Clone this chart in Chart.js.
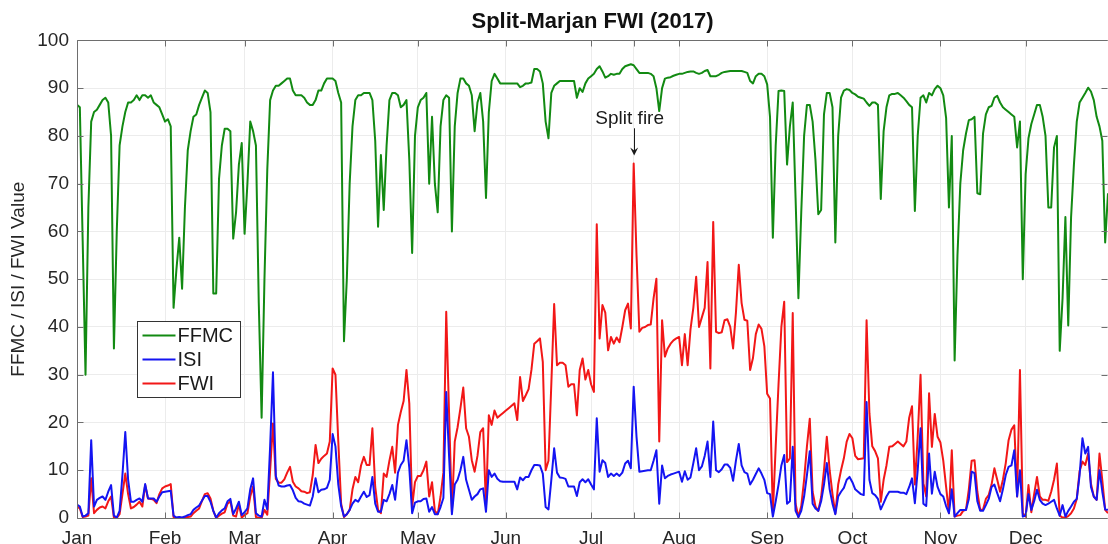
<!DOCTYPE html>
<html>
<head>
<meta charset="utf-8">
<title>Split-Marjan FWI (2017)</title>
<script src="https://cdn.jsdelivr.net/npm/chart.js@4.4.1/dist/chart.umd.min.js"></script>
<style>
  html, body { margin: 0; padding: 0; background: #ffffff; }
  #wrap { width: 1108px; height: 544px; }
</style>
</head>
<body>
<div id="wrap"><canvas id="fwiChart" width="1108" height="544"></canvas></div>
<script>
// daily values, index 0 = 1 Jan 2017 (one row per month)
const ffmc = [
  86.5, 86, 58, 30, 65, 83, 85, 85.5, 86.5, 87.5, 88, 87, 80, 35.5, 60, 78, 82, 85, 87, 87, 87.5, 88.5, 87.5, 88.5, 88.5, 88, 88.5, 87, 86.5, 86, 84.5,
  83, 83.5, 82, 44, 52, 58.7, 48, 65, 77, 81, 84, 84.5, 86.5, 88, 89.5, 89, 85, 47, 47, 71, 78, 81.5, 81.5, 81, 58.5, 64, 74, 78.5,
  59.5, 70, 83, 81, 78, 45, 21, 50, 73, 87.5, 89.5, 90.5, 90.5, 91, 91.5, 92, 92, 89.5, 88.5, 88.5, 88.5, 88, 87, 86.5, 86.5, 87.5, 89.5, 89.5, 91, 92, 92,
  92, 91.5, 89, 87, 37, 50, 70, 82, 87.5, 88.5, 88.5, 89, 89, 89, 87.5, 79, 61, 76, 64.5, 78, 87.5, 89, 89, 88.5, 86, 86.5, 87.5, 75, 55.5, 80,
  86, 87.5, 88, 89, 70, 84, 70, 64, 82, 87.5, 88.5, 88, 60, 82, 89, 92, 92, 91, 90.5, 88.5, 81, 87, 89, 83, 67, 85, 91.5, 93, 92, 91, 91,
  91, 91, 91, 91, 91, 90.2, 90.5, 91, 91, 91.2, 94, 94, 93.5, 91, 83, 79.5, 89, 90.5, 91, 91.5, 91.5, 91.5, 91.5, 91.5, 91.5, 88, 90, 89.2, 91, 92,
  92.5, 93, 94, 94.6, 93.5, 92.2, 92.5, 93, 92.8, 93, 93, 94, 94.6, 94.8, 95, 94.8, 94, 93.2, 93.2, 93.2, 93.2, 93, 92.5, 90, 85.2, 90, 92, 92.2, 92.3, 92.6, 92.8,
  93, 93, 93.2, 93.4, 93.5, 93.5, 93.2, 93, 93.2, 93.6, 93.8, 92.5, 92.5, 92.5, 92.8, 93.2, 93.4, 93.5, 93.6, 93.6, 93.6, 93.6, 93.6, 93.4, 93.2, 91.5, 91, 92.5, 93, 93, 92.5,
  90.8, 84, 58.7, 78, 89.4, 89.5, 89.4, 74, 82, 87, 67, 46, 64, 80, 86.5, 86.5, 83, 75, 63.6, 64.5, 84.5, 89, 89, 86, 57.7, 80, 88, 89.5, 89.8, 89.6,
  89, 88.7, 88.2, 88, 87.8, 87, 86.3, 87, 87, 86.5, 66.8, 81, 86, 88.5, 88.8, 88.8, 89, 88.5, 88, 87.3, 86.5, 86, 64.3, 80, 88, 88.5, 87, 89, 88.5, 89.8, 90.5,
  90, 88.5, 83.8, 65, 80, 33, 55, 70, 77, 80.5, 83.3, 83.5, 84, 68, 67.8, 80.5, 84.5, 86, 86.3, 88, 88.4, 87, 86, 85.5, 85, 84.5, 84, 77.6, 83, 50,
  72, 79.5, 82.5, 84.5, 86.5, 86.5, 84, 80, 65, 65, 77.6, 80, 35, 46, 63, 40.3, 63, 74, 83, 87, 88, 89, 90.1, 89.3, 87.5, 84, 82, 79, 57.7, 68
];

const isi = [
  2.8, 2.4, 0.3, 0.5, 1.0, 16.3, 2.4, 3.8, 4.2, 4.5, 3.8, 5.5, 6.9, 0.5, 0.1, 1.5, 9, 18, 8, 3.4, 3.4, 3.8, 4.1, 3.4, 7.1, 4.1, 4.1, 4.1, 3.4, 4.5, 5.4,
  5.5, 5.6, 5.7, 0.5, 0.1, 0.2, 0.1, 0.3, 0.6, 0.8, 1.7, 2.2, 2.6, 3.6, 4.6, 4.6, 3.4, 1.5, 0.1, 1.0, 1.6, 2.0, 3.5, 4.0, 0.8, 2.0, 3.4, 0.6,
  1.2, 2.0, 6, 8.3, 1.0, 0.5, 0.3, 3.8, 1.8, 15, 30.5, 8.8, 6.8, 6.6, 6.6, 6.8, 6.9, 5.8, 4.2, 3.5, 3.4, 3.0, 2.8, 2.6, 4.5, 8.3, 5.4, 5.9, 6.0, 6.3, 8,
  17.6, 15, 7, 2.5, 0.3, 0.8, 1.7, 3.0, 3.8, 3.4, 4.5, 5.5, 4.4, 4.8, 8.6, 3.0, 1.3, 1.3, 3.8, 3.5, 5, 6.9, 3.8, 9.5, 11.1, 12, 16.3, 10.5, 1.0, 3.2,
  3.5, 3.5, 4.0, 4.1, 1.3, 2.3, 0.8, 0.8, 2.3, 4.2, 26.4, 13, 0.8, 7, 8, 10, 12.8, 8, 5.9, 3.8, 4.5, 5, 6, 6.2, 1.3, 10, 8.6, 9.3, 8.2, 7.7, 7.6,
  7.6, 7.6, 7.6, 7.6, 6, 8.5, 7.9, 8.6, 8.6, 10, 11.1, 11.1, 11, 9.3, 2.3, 1.8, 8, 14.6, 9.5, 8.5, 8.4, 8.2, 6.6, 6.6, 6.6, 4.6, 7.5, 8.1, 7.5, 8.1,
  7, 6, 20.9, 9.7, 12.1, 11.5, 8.6, 9.3, 8.8, 9.3, 8.8, 9.5, 11.4, 12, 10.4, 27.5, 17, 9.7, 9.8, 9.9, 10, 10, 12, 14.2, 3, 11, 8.3, 8.8, 9.1, 9.3, 9.5,
  9.7, 7.6, 9.8, 8, 8.5, 11.5, 14.6, 10, 10.8, 13, 16, 8.6, 20.2, 10, 9.6, 10.2, 11.2, 11.2, 10.5, 7.8, 12, 15.5, 11, 9.6, 9.3, 7, 8, 9.2, 10.4, 9.3, 8,
  5.2, 5, 0.3, 3.5, 7, 11, 13.2, 3, 3.5, 14.9, 1.5, 0.2, 1.5, 4.5, 9, 14, 3, 2, 1.5, 3.5, 7, 11.5, 6, 3, 0.8, 4.5, 5.5, 6.3, 8, 8.6,
  7.5, 6, 5.5, 5, 4.8, 24.3, 8, 5.2, 4.8, 4, 1.8, 3.1, 4.5, 5.5, 5.5, 5.5, 5.5, 5.3, 5.3, 5, 6.5, 8.3, 3.1, 10, 18.8, 3, 2.5, 13.5, 5.1, 9.7, 6.5,
  5, 4.5, 2.5, 1, 6, 0.3, 1, 1.7, 1.7, 1.7, 4, 9.7, 9.4, 3.5, 1.5, 1.5, 2.7, 4, 6.5, 7, 5.2, 3.5, 6, 9, 10.7, 11, 14.2, 4.5, 10, 0.3,
  0.5, 5, 1.7, 3.5, 5.9, 3.8, 3, 2.7, 3, 3.4, 3.8, 2, 0.5, 2.7, 0.3, 1.5, 2.4, 3.4, 4, 9, 16.7, 13.5, 14.9, 6.5, 4.5, 3.8, 10, 5.5, 1.8, 1.7
];

const fwi = [
  2.4, 2.0, 0.2, 0.3, 0.5, 8.3, 1.0, 1.7, 2.2, 2.4, 2.0, 3.5, 4.5, 0.1, 0, 0.8, 5, 9.3, 5, 2.0, 2.3, 2.8, 3.4, 2.4, 6.9, 4.1, 4.0, 3.8, 3.1, 5.0, 6.2,
  6.6, 6.8, 7.1, 0.2, 0, 0.1, 0, 0.1, 0.2, 0.3, 1.0, 1.5, 2.0, 3.6, 5.0, 5.2, 4.1, 1.5, 0, 0.5, 0.9, 1.2, 3.0, 3.5, 0.5, 0.3, 2.9, 0.1,
  0.6, 1.0, 4.5, 6.6, 0.2, 0, 0, 1.7, 0.7, 10, 19.8, 8.2, 7.4, 7.4, 8.1, 9.5, 10.7, 7.6, 6.6, 6.2, 5.6, 5.5, 5.2, 5.4, 9, 15.3, 11.5, 12.4, 13, 13.5, 16,
  31.3, 30, 16, 3, 0.2, 0.8, 1.7, 6, 8.6, 7.5, 11, 12.8, 11.1, 11.1, 18.8, 6.5, 1.7, 1.0, 9.3, 8.6, 12, 14.9, 9.5, 19.5, 22.2, 24.5, 31, 24, 2.4, 7.5,
  8.8, 8.8, 10, 11.8, 4.5, 7.5, 1.5, 0.8, 4.5, 9.5, 43.2, 22, 1.3, 16, 19, 23, 27.3, 18.8, 17, 12.1, 9.7, 13, 18, 18.8, 2.4, 21.5, 19.5, 22.5, 21, 21.5, 22,
  22.5, 23, 23.5, 24, 20.5, 29.5, 24.5, 25.7, 27, 31, 36.5, 37, 37.6, 32.7, 10, 12, 28, 44.8, 32, 32.5, 32.5, 32, 27.5, 28, 28, 21.5, 31, 33.4, 29, 31,
  28, 26.4, 61.5, 37.6, 44.6, 43, 35.1, 37.9, 36.5, 37.8, 36.8, 40, 43.5, 44.9, 39.7, 74.2, 55, 39, 39.8, 40, 40.4, 40.5, 46, 50.1, 16, 41.4, 33.8, 35.5, 36.5, 37.2, 37.6,
  37.9, 32, 38.5, 32, 39.5, 44, 50.5, 40, 42, 44, 53.6, 31.3, 62, 39, 38.7, 38.9, 41.4, 41.6, 40, 35.5, 43, 53, 45, 41.5, 41.3, 31, 33.5, 38.5, 40.5, 39.6, 36,
  26, 25, 1, 15, 28, 40, 45.3, 11.7, 12.5, 42.9, 3, 0.2, 2.5, 8, 15, 20.8, 5.5, 2.4, 1.5, 4.4, 10, 17, 10, 5, 0.9, 7, 10, 12.5, 16, 17.6,
  16.7, 13, 12.3, 12.4, 12.5, 41.4, 21.9, 15, 14, 12.5, 3.4, 8, 11, 14.9, 15, 15.5, 16, 15.5, 15, 16, 21, 23.4, 7, 17, 30, 7.3, 4.5, 26.1, 14.9, 21.8, 17,
  15.8, 12, 6.5, 1, 14.2, 0.3, 0.5, 0.6, 1.5, 1.7, 6, 12, 12.1, 5.5, 1.7, 1.8, 4, 4.8, 7, 10.4, 8, 5.5, 8, 11.5, 16.3, 18.5, 19.4, 4.5, 31, 1,
  0.3, 6.9, 1.2, 5, 8.6, 4.5, 3.8, 3.8, 3.6, 5.5, 8, 11.4, 0.5, 0.1, 0.1, 0.4, 1, 2, 4, 9.8, 11.8, 11.1, 13.5, 7.2, 4.5, 3.8, 13.5, 7.9, 1.7, 1
];

const monthNames = ['Jan', 'Feb', 'Mar', 'Apr', 'May', 'Jun', 'Jul', 'Aug', 'Sep', 'Oct', 'Nov', 'Dec'];
const monthStarts = [0, 31, 59, 90, 120, 151, 181, 212, 243, 273, 304, 334];
const fireDay = 196;            // unlabelled tick + arrow
const fireText = 'Split fire';

const xTicks = monthStarts.concat([fireDay]).sort((a, b) => a - b);
const toPoints = arr => arr.map((v, i) => ({ x: i, y: v }));

Chart.defaults.font.family = '"Liberation Sans", Arial, Helvetica, sans-serif';
Chart.defaults.color = '#262626';

// box, inward ticks, legend and the fire arrow (MATLAB look)
const overlay = {
  id: 'overlay',
  afterDraw(chart) {
    const { ctx, chartArea: a, scales } = chart;
    const x = scales.x, y = scales.y;
    const L = Math.round(a.left) + 0.5, R = Math.round(a.right) - 0.5;
    const T = Math.round(a.top) + 0.5, B = Math.round(a.bottom) + 0.5;
    ctx.save();
    ctx.strokeStyle = '#6e6e6e';
    ctx.lineWidth = 1;
    ctx.beginPath();
    ctx.moveTo(L, B); ctx.lineTo(L, T); ctx.lineTo(R, T);
    ctx.moveTo(L, B); ctx.lineTo(R, B);
    xTicks.forEach(d => {
      const px = Math.round(x.getPixelForValue(d)) + 0.5;
      ctx.moveTo(px, B); ctx.lineTo(px, B - 6);
      ctx.moveTo(px, T); ctx.lineTo(px, T + 6);
    });
    for (let v = 0; v <= 100; v += 10) {
      const py = Math.round(y.getPixelForValue(v)) + 0.5;
      ctx.moveTo(L, py); ctx.lineTo(L + 6, py);
      ctx.moveTo(R, py); ctx.lineTo(R - 6, py);
    }
    ctx.stroke();

    // legend box
    const lx = 137.5, ly = 321.5, lw = 103, lh = 76;
    ctx.fillStyle = '#ffffff';
    ctx.fillRect(lx, ly, lw, lh);
    ctx.strokeStyle = '#333333';
    ctx.strokeRect(lx, ly, lw, lh);
    ctx.font = '20px "Liberation Sans", Arial, sans-serif';
    ctx.textBaseline = 'middle';
    ctx.textAlign = 'left';
    chart.data.datasets.forEach((ds, i) => {
      const ry = ly + 14 + i * 24;
      ctx.strokeStyle = ds.borderColor;
      ctx.lineWidth = 2;
      ctx.beginPath();
      ctx.moveTo(lx + 5, ry); ctx.lineTo(lx + 38, ry);
      ctx.stroke();
      ctx.fillStyle = '#1a1a1a';
      ctx.fillText(ds.label, lx + 40, ry + 1);
    });

    // annotation
    const fx = x.getPixelForValue(fireDay);
    const yTop = y.getPixelForValue(81.6), yTip = y.getPixelForValue(75.9);
    ctx.fillStyle = '#1a1a1a';
    ctx.textAlign = 'center';
    ctx.font = '19px "Liberation Sans", Arial, sans-serif';
    ctx.fillText(fireText, fx - 4, y.getPixelForValue(83.6));
    ctx.strokeStyle = '#1a1a1a';
    ctx.lineWidth = 1;
    ctx.beginPath();
    ctx.moveTo(Math.round(fx) + 0.5, yTop); ctx.lineTo(Math.round(fx) + 0.5, yTip - 4);
    ctx.stroke();
    ctx.beginPath();
    ctx.moveTo(fx + 0.5, yTip);
    ctx.lineTo(fx - 3.5, yTip - 8);
    ctx.lineTo(fx + 0.5, yTip - 5);
    ctx.lineTo(fx + 4.5, yTip - 8);
    ctx.closePath();
    ctx.fill();
    ctx.restore();
  }
};

const ctx = document.getElementById('fwiChart').getContext('2d');
const fwiChart = new Chart(ctx, {
  type: 'line',
  data: {
    datasets: [
      { label: 'FFMC', data: toPoints(ffmc), borderColor: '#128a12', order: 2 },
      { label: 'ISI', data: toPoints(isi), borderColor: '#1414f2', order: 0 },
      { label: 'FWI', data: toPoints(fwi), borderColor: '#f21717', order: 1 }
    ]
  },
  options: {
    responsive: false,
    animation: false,
    events: [],
    layout: { padding: 0 },
    elements: {
      point: { radius: 0 },
      line: { borderWidth: 2, tension: 0, fill: false, borderJoinStyle: 'round' }
    },
    plugins: {
      legend: { display: false },
      tooltip: { enabled: false },
      title: {
        display: true,
        fullSize: false,
        text: 'Split-Marjan FWI (2017)',
        color: '#111111',
        font: { size: 22, weight: 'bold' },
        padding: { top: 9, bottom: 5 }
      }
    },
    scales: {
      x: {
        type: 'linear',
        min: 0,
        max: 363,
        afterBuildTicks: scale => { scale.ticks = xTicks.map(v => ({ value: v })); },
        afterFit: scale => { scale.height = 26; },
        ticks: {
          autoSkip: false,
          maxRotation: 0,
          padding: 9,
          font: { size: 19 },
          callback: value => {
            const i = monthStarts.indexOf(value);
            return i >= 0 ? monthNames[i] : '';
          }
        },
        grid: { color: '#ececec', drawTicks: false },
        border: { display: false }
      },
      y: {
        min: 0,
        max: 100,
        afterFit: scale => { scale.width = 77; },
        ticks: { stepSize: 10, padding: 8, font: { size: 19 } },
        grid: { color: '#ececec', drawTicks: false },
        border: { display: false },
        title: {
          display: true,
          text: 'FFMC / ISI / FWI Value',
          color: '#262626',
          font: { size: 19 },
          padding: { top: 7, bottom: 0 }
        }
      }
    }
  },
  plugins: [overlay]
});
</script>
</body>
</html>
